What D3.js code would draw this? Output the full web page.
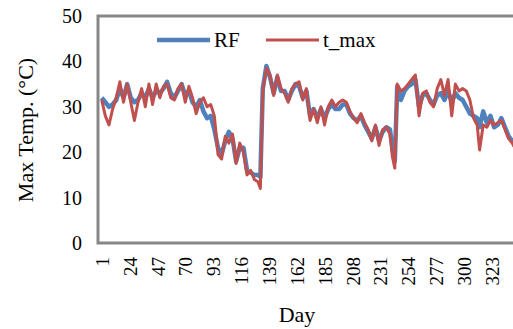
<!DOCTYPE html>
<meta charset="utf-8">
<style>
body { margin: 0; background: #fff; }
text { font-family: "Liberation Serif", "Times New Roman", serif; }
.line { fill: none; stroke-linejoin: round; }
</style>
<body>
<script src="https://d3js.org/d3.v7.min.js"></script>
<script>

// data (every ~3 days)
var days = [1,4,7,10,13,16,19,22,25,28,31,34,37,40,43,46,49,52,55,58,61,64,67,70,73,76,79,82,85,88,91,94,97,100,103,106,109,112,115,118,121,124,127,130,132,134,137,140,143,146,149,152,155,158,161,164,167,170,173,176,179,182,185,188,191,194,197,200,203,206,209,212,215,218,221,224,227,230,233,236,239,241,243,245,248,251,254,257,260,263,266,269,272,275,278,281,284,287,290,293,296,299,302,305,308,311,313,316,319,322,325,328,331,334,337,340,343];

var rf = [32,31,30,30.5,31.5,34,32,35,32,31,31.5,33,32,34,32,33.5,33,34,35.5,33,32,33.5,35,32.5,33.5,31,30,31.5,29,27.5,28,25,21,19.5,22.5,24.5,23,18,21,21,16,15.5,15,15,14.5,34,39,36.5,33,36.5,33.5,33.5,31.5,33.5,35,34.5,32,33.5,28,29.5,27.5,29.5,27.5,29.5,30.5,29.5,29.5,30.5,30.5,28.5,27.5,27,28,26,24.5,23,25.5,22.5,24.5,25.5,25,21,18,34.5,31.5,33.5,34.5,35,36,30,32.5,33,31.5,30.5,32.5,33,31.5,33.5,31,33,32,31.5,30,28.5,28,27.5,25.5,29,26.5,28,25.5,26,27.5,25.5,23.5,22.5,21];

var tmax = [31.5,28,26,29.5,32,35.5,31,35,31,27,31,34,30,35,30.5,35,32,34.5,35,32,31.5,34,35,31,34.5,32,28.5,31,32,30,30.5,28,19.5,18.5,23.5,22,24,17.5,22,20,15,16,14,13.5,12,33.5,38.5,37,32.5,37,34,33,31,34,35,35.5,31.5,34,27,29.5,26.5,30,26,30,31.5,30,31,31.5,31,29,27.5,26.5,28.5,26.5,25,22.5,26,21.5,25,25.5,24,19,16.5,35,33.5,34,35,36,37,28,33,33.5,31,30,34,36,32.5,36,28,35,33.5,34,33.5,31.5,27.5,26,20.5,26,25.5,27,26,26.5,27,25,23,22,20.5];

var xTicks = [1,24,47,70,93,116,139,162,185,208,231,254,277,300,323];
var yTicks = [0,10,20,30,40,50];

var svg = d3.select("body").append("svg")
    .attr("width", 513)
    .attr("height", 329);

// plot area
var plotLeft = 98, plotTop = 16, plotBottom = 243, plotRight = 560;

var x = d3.scaleLinear().domain([1, 323]).range([101.7, 491.7]);
var y = d3.scaleLinear().domain([0, 50]).range([plotBottom, plotTop]);

// frame
svg.append("rect")
    .attr("x", plotLeft).attr("y", plotTop)
    .attr("width", plotRight - plotLeft).attr("height", plotBottom - plotTop)
    .attr("fill", "none")
    .attr("stroke", "#878787")
    .attr("stroke-width", 3);

// y axis
var yAxis = svg.append("g")
    .attr("transform", "translate(" + (plotLeft - 16) + ",0)")
    .call(d3.axisLeft(y).tickValues(yTicks).tickSize(0).tickPadding(0));
yAxis.select(".domain").remove();
yAxis.selectAll("text")
    .attr("font-size", 20)
    .attr("fill", "#000")
    .style("font-family", "Liberation Serif");

// x axis, labels rotated
var xAxis = svg.append("g")
    .attr("transform", "translate(0," + (plotBottom + 14) + ")")
    .call(d3.axisBottom(x).tickValues(xTicks).tickSize(0).tickFormat(d3.format("d")));
xAxis.select(".domain").remove();
xAxis.selectAll("text")
    .attr("font-size", 19)
    .attr("fill", "#000")
    .style("font-family", "Liberation Serif")
    .attr("transform", "rotate(-90)")
    .attr("text-anchor", "end")
    .attr("x", 0)
    .attr("y", 0)
    .attr("dy", "0.35em");

// axis titles
svg.append("text")
    .attr("transform", "translate(33,130) rotate(-90)")
    .attr("text-anchor", "middle")
    .attr("font-size", 22)
    .text("Max Temp. (°C)");

svg.append("text")
    .attr("x", 297)
    .attr("y", 322)
    .attr("text-anchor", "middle")
    .attr("font-size", 22)
    .text("Day");

// lines
var tempLine = d3.line()
    .x(function(d, i) { return x(days[i]); })
    .y(function(d) { return y(d); });

svg.append("path")
    .datum(rf)
    .attr("class", "line")
    .attr("stroke", "#4f81bd")
    .attr("stroke-width", 4.5)
    .attr("d", tempLine);

svg.append("path")
    .datum(tmax)
    .attr("class", "line")
    .attr("stroke", "#c0504d")
    .attr("stroke-width", 3)
    .attr("d", tempLine);

// legend
var legend = [
  {name: "RF", color: "#4f81bd", w: 4.5, x: 157},
  {name: "t_max", color: "#c0504d", w: 3, x: 266}
];
legend.forEach(function(l) {
  svg.append("line")
      .attr("x1", l.x).attr("x2", l.x + 53)
      .attr("y1", 40).attr("y2", 40)
      .attr("stroke", l.color)
      .attr("stroke-width", l.w);
  svg.append("text")
      .attr("x", l.x + 57)
      .attr("y", 47)
      .attr("font-size", 21)
      .text(l.name);
});

</script>
</body>
